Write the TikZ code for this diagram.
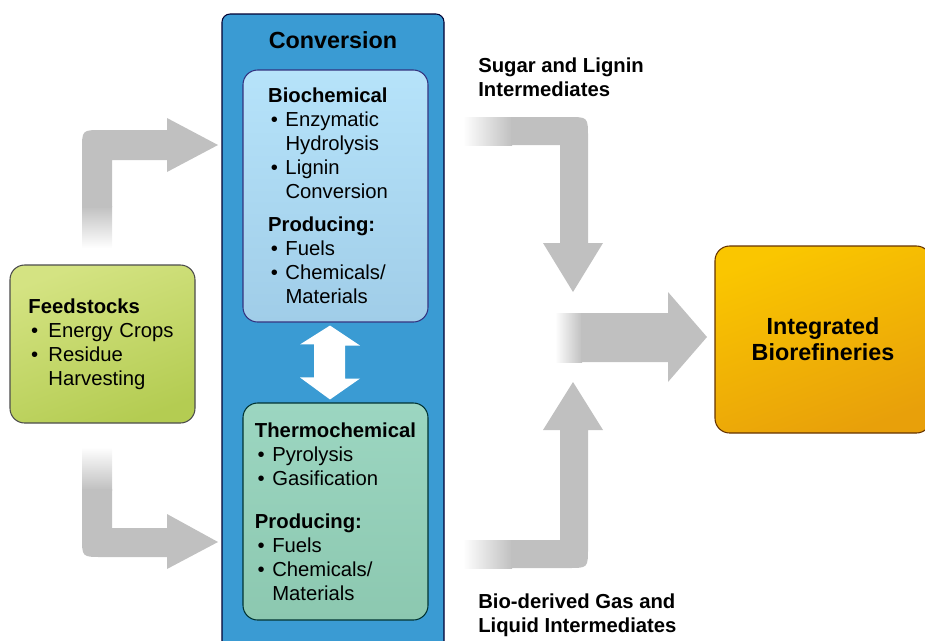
\documentclass[tikz,border=0pt]{standalone}
\usepackage{fontspec}
\setmainfont{Liberation Sans}
\usepackage{xcolor}
\usetikzlibrary{positioning,calc}

\definecolor{arrgray}{RGB}{192,192,192}
\definecolor{convblue}{RGB}{58,155,211}
\definecolor{biotop}{RGB}{182,227,250}
\definecolor{biobot}{RGB}{160,205,232}
\definecolor{thtop}{RGB}{156,214,193}
\definecolor{thbot}{RGB}{140,200,176}
\definecolor{feedtop}{RGB}{212,227,130}
\definecolor{feedbot}{RGB}{180,204,82}
\definecolor{inttop}{RGB}{250,198,0}
\definecolor{intbot}{RGB}{232,160,10}

\newcommand{\bul}[1][13pt]{\makebox[#1][l]{\hspace*{2pt}\textbullet}}
\newcommand{\cnt}[1][13pt]{\hspace*{#1}}

\begin{document}
\begin{tikzpicture}[x=0.75pt,y=-0.75pt,
  txt/.style={font=\fontsize{15.2}{18}\selectfont,inner sep=0pt},
  box/.style={txt,draw,line width=0.8pt,rounded corners=11pt,align=left},
  big/.style={font=\fontsize{17.5}{20}\selectfont\bfseries,inner sep=0pt}]
\useasboundingbox (0,0) rectangle (925,640);

% boxes
\node[box,draw=black!70,top color=feedtop,bottom color=feedbot,shading angle=20,
  text width=111pt,minimum width=138.75pt,minimum height=118.5pt] (feed) at (102.5,344)
  {{\bfseries Feedstocks}\\ \bul[15pt]Energy Crops\\ \bul[15pt]Residue\\ \cnt[15pt]Harvesting};
\node[draw=black!80!blue,line width=0.8pt,fill=convblue,rounded corners=6pt,
  minimum width=166.5pt,minimum height=484.5pt] (conv) at (333,337) {};
\node[big] (convtitle) at (333,40) {Conversion};
\node[box,draw=black!50!blue!60!gray,top color=biotop,bottom color=biobot,
  text width=101pt,minimum width=138.75pt,minimum height=189pt] (bio) at (335.5,196)
  {{\bfseries Biochemical}\\ \bul Enzymatic\\ \cnt Hydrolysis\\ \bul Lignin\\ \cnt Conversion\\[7pt]
   {\bfseries Producing:}\\ \bul Fuels\\ \bul Chemicals/\\ \cnt Materials};
\node[box,draw=black!60!teal,top color=thtop,bottom color=thbot,
  minimum width=138.75pt,minimum height=162.75pt] (thermo) at (335.5,511.5)
  {{\bfseries Thermochemical}\\ \bul Pyrolysis\\ \bul Gasification\\[14pt]
   {\bfseries Producing:}\\ \bul Fuels\\ \bul Chemicals/\\ \cnt Materials};
\node[draw=black!60!orange,line width=0.8pt,rounded corners=11pt,
  top color=inttop,bottom color=intbot,shading angle=20,align=center,
  minimum width=162pt,minimum height=140.25pt,big,font=\fontsize{17.5}{19.5}\selectfont\bfseries]
  (integ) at (823,339.5) {Integrated\\ Biorefineries};

% labels
\node[txt,font=\fontsize{15.2}{18}\selectfont\bfseries,align=left,anchor=north west]
  (sugar) at (478,58) {Sugar and Lignin\\ Intermediates};
\node[txt,font=\fontsize{15.2}{18}\selectfont\bfseries,align=left,anchor=north west]
  (gasliq) at (478,594) {Bio-derived Gas and\\ Liquid Intermediates};

% double arrow between the two routes
\fill[white] ($(bio.south)+(-5.5,3)$) -- ++(30,20) -- ++(-15,0) -- ++(0,33) -- ++(15,0)
  -- ($(thermo.north)+(-5.5,-3)$) -- ++(-30,-22) -- ++(14,0) -- ++(0,-33) -- ++(-14,0) -- cycle;

% feedstocks -> conversion
\shade[top color=arrgray,bottom color=white] (82,206) rectangle (112,248);
\fill[arrgray] (82,207) -- (82,150) .. controls (82,130) .. (102,130) -- (167,130) -- (167,118)
  -- (218,145) -- (167,172) -- (167,160) -- (112,160) -- (112,207) -- cycle;
\shade[top color=white,bottom color=arrgray] (82,447) rectangle (112,490);
\fill[arrgray] (82,489) -- (82,537) .. controls (82,557) .. (102,557) -- (167,557) -- (167,569)
  -- (218,542) -- (167,514) -- (167,528) -- (112,528) -- (112,489) -- cycle;

% intermediates -> biorefineries
\shade[left color=white,right color=arrgray] (463,117) rectangle (512,145);
\fill[arrgray] (511,117) -- (568,117) .. controls (588,117) .. (588,137) -- (588,243) -- (603,243)
  -- (573,292) -- (543,243) -- (560,243) -- (560,145) -- (511,145) -- cycle;
\shade[left color=white,right color=arrgray] (463,540) rectangle (512,568);
\fill[arrgray] (511,568) -- (568,568) .. controls (588,568) .. (588,548) -- (588,430) -- (603,430)
  -- (573,382) -- (543,430) -- (560,430) -- (560,540) -- (511,540) -- cycle;
\shade[left color=white,right color=arrgray] (555,313) rectangle (582,362);
\fill[arrgray] (581,313) -- (668,313) -- (668,292) -- (707,337) -- (668,382) -- (668,362)
  -- (581,362) -- cycle;
\end{tikzpicture}
\end{document}
